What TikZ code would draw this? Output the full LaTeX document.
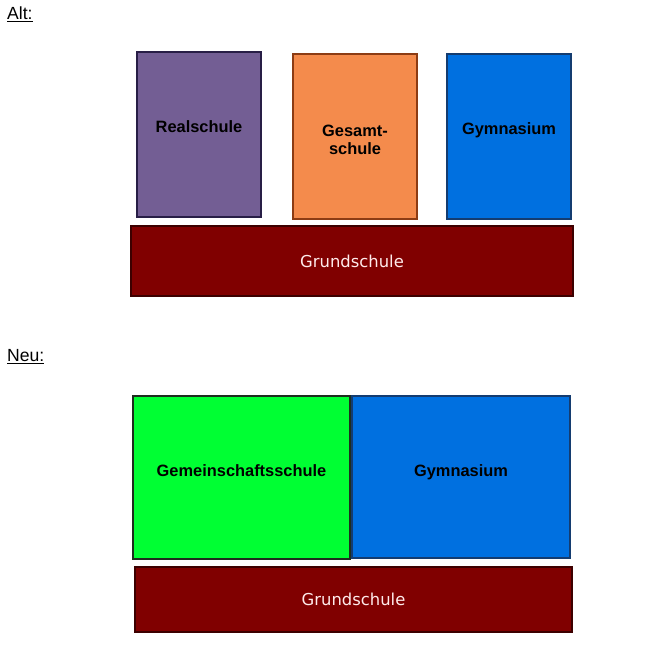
\documentclass[tikz,border=0pt]{standalone}
\usepackage{fontspec}
\setmainfont{Liberation Sans}
\newfontfamily\grundfont{DejaVu Sans}
\usepackage{tikz}
\usetikzlibrary{positioning}
\definecolor{realpurple}{RGB}{115, 94, 148}
\definecolor{realedge}{RGB}{40, 30, 70}
\definecolor{gesamtorange}{RGB}{244, 139, 76}
\definecolor{gesamtedge}{RGB}{140, 60, 20}
\definecolor{gymblue}{RGB}{0, 112, 224}
\definecolor{gymedge}{RGB}{20, 60, 112}
\definecolor{gemgreen}{RGB}{0, 255, 51}
\definecolor{gemedge}{RGB}{30, 45, 30}
\definecolor{grundred}{RGB}{128, 0, 0}
\definecolor{grundedge}{RGB}{60, 0, 0}
\tikzstyle{school} = [rectangle, line width=1.2pt, inner sep=0pt]
\tikzstyle{schooltext} = [font=\bfseries\fontsize{14}{16}\selectfont, align=center, text=black]
\tikzstyle{grund} = [school, draw=grundedge, fill=grundred, text=white!92!red, font=\grundfont\fontsize{14}{16}\selectfont]
\tikzstyle{heading} = [anchor=west, inner sep=0pt, font=\fontsize{15}{17}\selectfont]

\begin{document}
\begin{tikzpicture}[x=0.03cm, y=-0.03cm]
    \useasboundingbox (0,0) rectangle (660,667);

    % Alt
    \node[heading] (alt) at (7,14) {\underline{Alt:}};
    \node[school, draw=realedge, fill=realpurple, minimum width=3.72cm, minimum height=4.95cm,
          label={[schooltext, yshift=0.25cm]center:Realschule}] (real) at (199,134.5) {};
    \node[school, draw=gesamtedge, fill=gesamtorange, minimum width=3.72cm, minimum height=4.95cm,
          label={[schooltext, yshift=-0.1cm]center:Gesamt-\\schule}] (gesamt) at (355,136.5) {};
    \node[school, draw=gymedge, fill=gymblue, minimum width=3.72cm, minimum height=4.95cm,
          label={[schooltext, yshift=0.2cm]center:Gymnasium}] (gymalt) at (509,136.5) {};
    \node[grund, minimum width=13.26cm, minimum height=2.1cm] (grundalt) at (352,261) {Grundschule};

    % Neu
    \node[heading] (neu) at (7,357) {\underline{Neu:}};
    \node[school, draw=gemedge, fill=gemgreen, minimum width=6.51cm, minimum height=4.89cm,
          label={[schooltext, yshift=0.2cm]center:Gemeinschaftsschule}] (gem) at (241.5,477.5) {};
    \node[school, draw=gymedge, fill=gymblue, minimum width=6.54cm, minimum height=4.86cm,
          label={[schooltext, yshift=0.14cm]center:Gymnasium}] (gymneu) at (461,477) {};
    \node[grund, minimum width=13.11cm, minimum height=1.95cm] (grundneu) at (353.5,599.5) {Grundschule};
\end{tikzpicture}
\end{document}
